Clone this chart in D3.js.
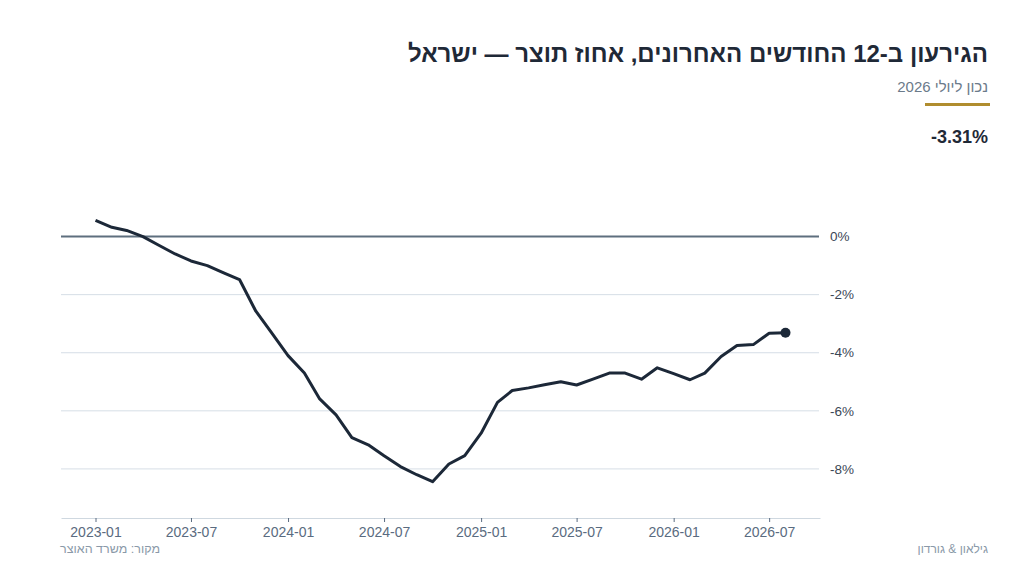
<!DOCTYPE html>
<html lang="he">
<head>
<meta charset="UTF-8">
<script src="https://cdn.jsdelivr.net/npm/d3@7"></script>
<title>גירעון</title>
<style>
html, body { margin: 0; padding: 0; background: #fff; }
svg { display: block; font-family: "Liberation Sans", Arial, sans-serif; }
</style>
</head>
<body>
<svg id="chart" width="1024" height="576"></svg>
<script>
// monthly, 2023-01 .. 2026-08
const months = [
  '2023-01','2023-02','2023-03','2023-04','2023-05','2023-06','2023-07','2023-08','2023-09','2023-10','2023-11','2023-12',
  '2024-01','2024-02','2024-03','2024-04','2024-05','2024-06','2024-07','2024-08','2024-09','2024-10','2024-11','2024-12',
  '2025-01','2025-02','2025-03','2025-04','2025-05','2025-06','2025-07','2025-08','2025-09','2025-10','2025-11','2025-12',
  '2026-01','2026-02','2026-03','2026-04','2026-05','2026-06','2026-07','2026-08'
]
const deficit = [
  0.56, 0.32, 0.21, 0.0, -0.3, -0.6, -0.84, -1.0, -1.25, -1.48, -2.57, -3.32,
  -4.1, -4.7, -5.59, -6.14, -6.92, -7.17, -7.55, -7.92, -8.2, -8.44, -7.83, -7.54,
  -6.77, -5.71, -5.3, -5.21, -5.1, -5.0, -5.11, -4.91, -4.7, -4.7, -4.91, -4.52,
  -4.72, -4.93, -4.7, -4.13, -3.75, -3.72, -3.33, -3.31
]
const yTicks = [0, -2, -4, -6, -8]
const xTickLabels = ['2023-01','2023-07','2024-01','2024-07','2025-01','2025-07','2026-01','2026-07']

const title = 'הגירעון ב-12 החודשים האחרונים, אחוז תוצר — ישראל'
const subtitle = 'נכון ליולי 2026'
const lastLabel = '-3.31%'
const source = 'מקור: משרד האוצר'
const credit = 'גילאון & גורדון'

const parse = d3.timeParse('%Y-%m')
let data = months.map((m, i) => ({ date: parse(m), v: deficit[i] }))

let svg = d3.select('#chart')
let mLeft = 61, mRight = 820, mTop = 193, mBottom = 518

// 5% padding on time
let t0 = data[0].date, t1 = data[data.length - 1].date
let pad = (t1 - t0) * 0.05
let x = d3.scaleTime()
  .domain([new Date(+t0 - pad), new Date(+t1 + pad)])
  .range([mLeft, mRight])
let y = d3.scaleLinear()
  .domain([-9.69, 1.5])
  .range([mBottom, mTop])

// grid
svg.append('g')
  .selectAll('line')
  .data(yTicks.filter(d => d !== 0))
  .join('line')
  .attr('x1', mLeft).attr('x2', mRight - 1)
  .attr('y1', d => y(d)).attr('y2', d => y(d))
  .attr('stroke', '#d6dee6').attr('stroke-width', 1)

svg.append('line')
  .attr('x1', mLeft).attr('x2', mRight - 1)
  .attr('y1', y(0)).attr('y2', y(0))
  .attr('stroke', '#5e6f7e').attr('stroke-width', 2)

// y labels on right
svg.append('g')
  .selectAll('text')
  .data(yTicks)
  .join('text')
  .attr('x', 830)
  .attr('y', d => y(d))
  .attr('dy', '0.35em')
  .attr('font-size', 13.5)
  .attr('fill', '#3b4756')
  .text(d => d + '%')

// x axis
let xAxis = d3.axisBottom(x)
  .tickValues(xTickLabels.map(parse))
  .tickFormat(d3.timeFormat('%Y-%m'))
  .tickSize(4)
  .tickSizeOuter(0)
  .tickPadding(5)
let gx = svg.append('g')
  .attr('transform', `translate(0,${mBottom})`)
  .call(xAxis)
gx.select('.domain').attr('stroke', '#cfd8e0')
gx.selectAll('.tick line').attr('stroke', '#5a6b80')
gx.selectAll('.tick text')
  .attr('font-size', 14)
  .attr('font-family', '"Liberation Sans", Arial, sans-serif')
  .attr('fill', '#5a6b80')

// line
let line = d3.line().x(d => x(d.date)).y(d => y(d.v))
svg.append('path')
  .datum(data)
  .attr('d', line)
  .attr('fill', 'none')
  .attr('stroke', '#1c2838')
  .attr('stroke-width', 3)
  .attr('stroke-linejoin', 'round')

let last = data[data.length - 1]
svg.append('circle')
  .attr('cx', x(last.date))
  .attr('cy', y(last.v))
  .attr('r', 5)
  .attr('fill', '#1c2838')

// header (rtl: start = right edge)
svg.append('text')
  .attr('x', 988).attr('y', 62)
  .attr('text-anchor', 'start')
  .attr('direction', 'rtl')
  .attr('font-size', 24)
  .attr('font-weight', 'bold')
  .attr('fill', '#1f2937')
  .text(title)

svg.append('text')
  .attr('x', 988).attr('y', 92)
  .attr('text-anchor', 'start')
  .attr('direction', 'rtl')
  .attr('font-size', 15)
  .attr('fill', '#6b7a8a')
  .text(subtitle)

svg.append('rect')
  .attr('x', 925).attr('y', 103)
  .attr('width', 65).attr('height', 3)
  .attr('fill', '#b08d2e')

svg.append('text')
  .attr('x', 988).attr('y', 143)
  .attr('text-anchor', 'end')
  .attr('font-size', 18)
  .attr('font-weight', 'bold')
  .attr('fill', '#1f2937')
  .text(lastLabel)

// footer
svg.append('text')
  .attr('x', 160).attr('y', 553)
  .attr('text-anchor', 'start')
  .attr('direction', 'rtl')
  .attr('font-size', 12.5)
  .attr('fill', '#8a99a8')
  .text(source)

svg.append('text')
  .attr('x', 988).attr('y', 553)
  .attr('text-anchor', 'start')
  .attr('direction', 'rtl')
  .attr('font-size', 12)
  .attr('fill', '#8a99a8')
  .text(credit)
</script>
</body>
</html>
